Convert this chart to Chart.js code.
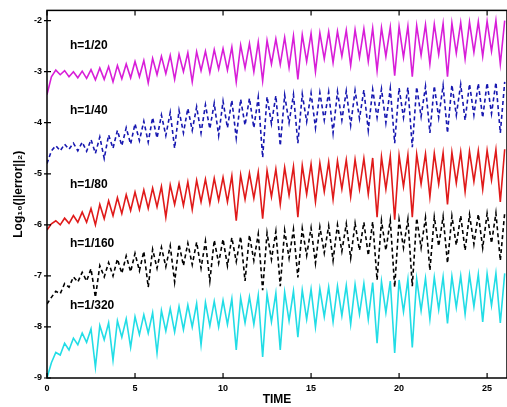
<!DOCTYPE html>
<html>
<head>
<meta charset="utf-8">
<script src="https://cdn.jsdelivr.net/npm/chart.js@4.4.0/dist/chart.umd.min.js"></script>
<style>
  html, body { margin: 0; padding: 0; background: #fff; }
  #wrap { width: 507px; height: 407px; }
</style>
</head>
<body>
<div id="wrap"><canvas id="myChart" width="507" height="407"></canvas></div>
<script>
'use strict';

// time samples (every 0.25)
let times = [0,0.25,0.5,0.75,1,1.25,1.5,1.75,2,2.25,2.5,2.75,3,3.25,3.5,3.75,4,4.25,4.5,4.75,
  5,5.25,5.5,5.75,6,6.25,6.5,6.75,7,7.25,7.5,7.75,8,8.25,8.5,8.75,9,9.25,9.5,9.75,
  10,10.25,10.5,10.75,11,11.25,11.5,11.75,12,12.25,12.5,12.75,13,13.25,13.5,13.75,14,14.25,14.5,14.75,
  15,15.25,15.5,15.75,16,16.25,16.5,16.75,17,17.25,17.5,17.75,18,18.25,18.5,18.75,19,19.25,19.5,19.75,
  20,20.25,20.5,20.75,21,21.25,21.5,21.75,22,22.25,22.5,22.75,23,23.25,23.5,23.75,24,24.25,24.5,24.75,
  25,25.25,25.5,25.75,26];

let h20 = [-3.45,-3.1,-2.97,-3.06,-2.98,-3.1,-3.0,-3.12,-2.99,-3.13,-2.96,-3.16,-2.93,-3.15,-2.9,-3.2,-2.88,-3.14,-2.85,-3.12,
  -2.8,-3.1,-2.78,-3.22,-2.74,-3.06,-2.7,-3.04,-2.68,-3.15,-2.66,-3.0,-2.63,-3.2,-2.61,-2.98,-2.6,-3.02,-2.57,-2.95,
  -2.55,-2.97,-2.52,-3.2,-2.48,-2.93,-2.45,-3.0,-2.42,-3.18,-2.39,-2.85,-2.36,-2.86,-2.33,-2.92,-2.3,-3.15,-2.28,-2.8,
  -2.25,-3.0,-2.24,-2.75,-2.22,-2.82,-2.21,-2.7,-2.19,-2.88,-2.18,-2.72,-2.16,-2.8,-2.15,-2.98,-2.14,-2.7,-2.13,-3.08,
  -2.12,-2.72,-2.11,-3.1,-2.1,-2.68,-2.08,-2.85,-2.07,-2.66,-2.06,-3.1,-2.05,-2.64,-2.04,-2.75,-2.03,-2.62,-2.02,-2.7,
  -2.01,-2.6,-2.0,-2.85,-2.0];

let h40 = [-4.8,-4.55,-4.45,-4.55,-4.42,-4.52,-4.4,-4.55,-4.38,-4.56,-4.33,-4.6,-4.28,-4.7,-4.24,-4.5,-4.15,-4.45,-4.1,-4.42,
  -4.02,-4.35,-3.97,-4.38,-3.9,-4.3,-3.85,-4.25,-3.8,-4.5,-3.76,-4.2,-3.72,-4.15,-3.69,-4.2,-3.65,-4.12,-3.62,-4.25,
  -3.58,-4.1,-3.56,-4.3,-3.54,-4.05,-3.52,-4.1,-3.5,-4.68,-3.49,-4.02,-3.47,-4.45,-3.46,-4.0,-3.45,-4.4,-3.44,-3.98,
  -3.42,-4.1,-3.41,-3.95,-3.4,-4.2,-3.39,-3.95,-3.38,-4.05,-3.37,-3.92,-3.36,-4.15,-3.35,-3.9,-3.34,-4.0,-3.33,-4.4,
  -3.32,-3.9,-3.31,-4.48,-3.3,-3.88,-3.29,-4.2,-3.28,-3.9,-3.27,-4.2,-3.26,-3.85,-3.25,-3.95,-3.24,-3.85,-3.23,-3.9,
  -3.22,-3.82,-3.21,-4.2,-3.2];

let h80 = [-6.1,-5.98,-5.92,-6.0,-5.87,-5.97,-5.82,-5.95,-5.75,-5.95,-5.68,-6.0,-5.6,-5.88,-5.53,-5.82,-5.47,-5.78,-5.41,-5.72,
  -5.36,-5.7,-5.32,-5.68,-5.28,-5.65,-5.25,-5.85,-5.22,-5.6,-5.19,-5.62,-5.16,-5.7,-5.13,-5.55,-5.11,-5.58,-5.09,-5.52,
  -5.07,-5.55,-5.04,-5.92,-5.02,-5.5,-4.99,-5.48,-4.97,-5.88,-4.94,-5.45,-4.91,-5.6,-4.88,-5.42,-4.86,-5.85,-4.84,-5.4,
  -4.81,-5.55,-4.79,-5.35,-4.77,-5.5,-4.75,-5.3,-4.73,-5.45,-4.72,-5.3,-4.7,-5.4,-4.69,-5.85,-4.67,-5.3,-4.66,-5.9,
  -4.64,-5.25,-4.63,-5.85,-4.62,-5.2,-4.61,-5.45,-4.6,-5.2,-4.59,-5.6,-4.58,-5.18,-4.57,-5.35,-4.56,-5.15,-4.55,-5.3,
  -4.54,-5.12,-4.53,-5.55,-4.52];

let h160 = [-7.55,-7.42,-7.3,-7.35,-7.15,-7.22,-7.02,-7.12,-6.93,-7.1,-6.86,-7.42,-6.8,-7.02,-6.74,-7.0,-6.67,-6.95,-6.61,-6.92,
  -6.56,-6.9,-6.52,-7.22,-6.48,-6.85,-6.44,-6.82,-6.41,-7.12,-6.38,-6.8,-6.36,-6.78,-6.34,-6.85,-6.32,-7.1,-6.3,-6.75,
  -6.28,-6.8,-6.25,-6.72,-6.23,-7.1,-6.2,-6.7,-6.18,-7.28,-6.16,-6.68,-6.13,-7.2,-6.11,-6.65,-6.09,-7.03,-6.07,-6.6,
  -6.06,-6.75,-6.04,-6.55,-6.02,-6.7,-6.0,-6.52,-5.98,-6.65,-5.97,-6.5,-5.95,-6.6,-5.94,-7.08,-5.92,-6.5,-5.91,-7.22,
  -5.9,-6.45,-5.89,-7.2,-5.87,-6.45,-5.86,-6.89,-5.85,-6.42,-5.84,-6.75,-5.83,-6.4,-5.82,-6.5,-5.8,-6.38,-5.79,-6.45,
  -5.78,-6.36,-5.77,-6.7,-5.76];

let h320 = [-9.0,-8.7,-8.5,-8.55,-8.32,-8.45,-8.22,-8.35,-8.12,-8.3,-8.04,-8.79,-7.97,-8.25,-7.92,-8.65,-7.88,-8.2,-7.84,-8.4,
  -7.8,-8.15,-7.76,-8.12,-7.72,-8.51,-7.68,-8.08,-7.64,-8.1,-7.6,-8.05,-7.57,-8.0,-7.54,-8.35,-7.52,-7.98,-7.5,-8.0,
  -7.48,-7.95,-7.45,-8.45,-7.43,-7.92,-7.41,-7.95,-7.38,-8.59,-7.36,-7.9,-7.34,-8.45,-7.32,-7.88,-7.3,-8.2,-7.28,-7.85,
  -7.26,-8.0,-7.25,-7.8,-7.22,-7.9,-7.2,-7.78,-7.19,-7.95,-7.17,-7.75,-7.15,-7.85,-7.13,-8.32,-7.11,-7.72,-7.1,-8.51,
  -7.08,-7.7,-7.07,-8.4,-7.06,-7.68,-7.05,-7.85,-7.03,-7.66,-7.02,-7.93,-7.01,-7.62,-7.0,-7.75,-6.98,-7.6,-6.97,-7.9,
  -6.96,-7.58,-6.95,-7.92,-6.95];

let seriesNames = ['h=1/20','h=1/40','h=1/80','h=1/160','h=1/320'];
// where each name label sits (data coordinates)
let labelX = [1.3, 1.3, 1.3, 1.3, 1.3];
let labelY = [-2.5, -3.76, -5.22, -6.36, -7.59];

let xTicks = [0, 5, 10, 15, 20, 25];
let yTicks = [-9, -8, -7, -6, -5, -4, -3, -2];

function toPts(vals){
  return vals.map((v, i) => ({x: times[i], y: v}));
}

let sets = [
  {data: h20, color: '#d81ed8', dash: []},
  {data: h40, color: '#1717b0', dash: [4, 3]},
  {data: h80, color: '#e01a1a', dash: []},
  {data: h160, color: '#000000', dash: [4, 3]},
  {data: h320, color: '#22dde6', dash: []}
];

// box, inward ticks and curve names
let decorPlugin = {
  id: 'decor',
  afterDraw(chart){
    let ctx = chart.ctx;
    let a = chart.chartArea;
    let xs = chart.scales.x;
    let ys = chart.scales.y;
    ctx.save();
    ctx.strokeStyle = '#000';
    ctx.lineWidth = 1.5;
    ctx.strokeRect(a.left, a.top, a.right - a.left, a.bottom - a.top);
    ctx.lineWidth = 1.2;
    ctx.beginPath();
    xTicks.forEach(v => {
      let px = xs.getPixelForValue(v);
      ctx.moveTo(px, a.bottom); ctx.lineTo(px, a.bottom - 5);
      ctx.moveTo(px, a.top); ctx.lineTo(px, a.top + 5);
    });
    yTicks.forEach(v => {
      let py = ys.getPixelForValue(v);
      ctx.moveTo(a.left - 3, py); ctx.lineTo(a.left + 4, py);
    });
    ctx.stroke();

    ctx.fillStyle = '#000';
    ctx.font = 'bold 12px "Liberation Sans", Arial, sans-serif';
    ctx.textAlign = 'left';
    ctx.textBaseline = 'middle';
    for (let i = 0; i < seriesNames.length; i++) {
      ctx.fillText(seriesNames[i], xs.getPixelForValue(labelX[i]), ys.getPixelForValue(labelY[i]));
    }
    ctx.restore();
  }
};

let ctx = document.getElementById('myChart').getContext('2d');
let myChart = new Chart(ctx, {
  type: 'line',
  data: {
    datasets: sets.map((s, i) => ({
      label: seriesNames[i],
      data: toPts(s.data),
      borderColor: s.color,
      borderDash: s.dash,
      borderWidth: 1.6,
      pointRadius: 0,
      tension: 0,
      fill: false
    }))
  },
  options: {
    responsive: false,
    animation: false,
    layout: {padding: {top: 10, right: 0, left: 0, bottom: 0}},
    plugins: {legend: {display: false}, tooltip: {enabled: false}},
    scales: {
      x: {
        type: 'linear',
        min: 0,
        max: 26.13,
        afterBuildTicks(scale){ scale.ticks = xTicks.map(v => ({value: v})); },
        afterFit(scale){ scale.height = 29; },
        grid: {display: false, drawTicks: false},
        border: {display: false},
        ticks: {
          padding: 5,
          color: '#000',
          font: {family: '"Liberation Sans", Arial, sans-serif', size: 9, weight: 'bold'},
          maxRotation: 0
        },
        title: {
          display: true,
          text: 'TIME',
          color: '#000',
          padding: {top: 0, bottom: 0},
          font: {family: '"Liberation Sans", Arial, sans-serif', size: 12, weight: 'bold'}
        }
      },
      y: {
        min: -9,
        max: -1.8,
        afterBuildTicks(scale){ scale.ticks = yTicks.map(v => ({value: v})); },
        afterFit(scale){ scale.width = 47; },
        grid: {display: false, drawTicks: false},
        border: {display: false},
        ticks: {
          padding: 5,
          color: '#000',
          font: {family: '"Liberation Sans", Arial, sans-serif', size: 9, weight: 'bold'},
          callback: v => String(v)
        },
        title: {
          display: true,
          text: 'Log₁₀(||error||₂)',
          color: '#000',
          padding: {top: 11, bottom: 0},
          font: {family: '"Liberation Sans", "DejaVu Sans", sans-serif', size: 12, weight: 'bold'}
        }
      }
    }
  },
  plugins: [decorPlugin]
});
</script>
</body>
</html>
